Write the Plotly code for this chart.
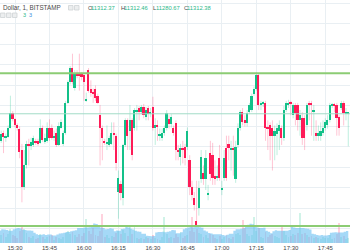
import pandas as pd
import plotly.graph_objects as go

times = pd.date_range("2018-02-20 15:23", periods=153, freq="1min")

open_ = [11283, 11286, 11294, 11289, 11290, 11299, 11313, 11307, 11301, 11298,
         11277, 11241, 11262, 11283, 11281, 11282, 11286, 11286, 11284, 11299,
         11285, 11286, 11299, 11299, 11289, 11294, 11282, 11299, 11283, 11294,
         11323, 11343, 11357, 11338, 11352, 11352, 11351, 11350, 11325, 11355,
         11337, 11333, 11337, 11330, 11311, 11299, 11285, 11283, 11282, 11283,
         11294, 11291, 11236, 11244, 11230, 11282, 11306, 11296, 11306, 11299,
         11314, 11318, 11314, 11319, 11309, 11318, 11312, 11319, 11299, 11301,
         11291, 11289, 11294, 11299, 11307, 11302, 11299, 11303, 11277, 11270,
         11279, 11280, 11280, 11267, 11241, 11230, 11208, 11220, 11249, 11255,
         11249, 11234, 11274, 11272, 11252, 11250, 11269, 11238, 11250, 11279,
         11283, 11277, 11279, 11249, 11282, 11299, 11314, 11306, 11303, 11314,
         11316, 11332, 11337, 11350, 11321, 11322, 11323, 11299, 11301, 11299,
         11291, 11293, 11296, 11299, 11289, 11316, 11321, 11323, 11311, 11321,
         11321, 11306, 11308, 11308, 11301, 11323, 11323, 11314, 11294, 11291,
         11291, 11294, 11299, 11301, 11306, 11320, 11321, 11321, 11309, 11318,
         11323, 11313, 11312.37]

high = [11296, 11296, 11296, 11293, 11301, 11330, 11315, 11308, 11303, 11300,
        11283, 11277, 11286, 11288, 11289, 11291, 11288, 11288, 11307, 11301,
        11293, 11304, 11307, 11302, 11296, 11298, 11304, 11307, 11296, 11325,
        11345, 11359, 11371, 11355, 11355, 11371, 11353, 11352, 11333, 11357,
        11345, 11337, 11340, 11332, 11321, 11301, 11288, 11301, 11291, 11304,
        11304, 11293, 11257, 11247, 11283, 11308, 11308, 11321, 11308, 11318,
        11321, 11320, 11321, 11322, 11319, 11320, 11318, 11329, 11308, 11306,
        11298, 11298, 11301, 11316, 11311, 11312, 11301, 11306, 11282, 11283,
        11286, 11283, 11299, 11272, 11247, 11236, 11247, 11247, 11277, 11262,
        11277, 11243, 11286, 11284, 11267, 11262, 11282, 11247, 11277, 11291,
        11291, 11286, 11291, 11286, 11303, 11316, 11318, 11311, 11316, 11323,
        11332, 11339, 11353, 11352, 11325, 11325, 11325, 11306, 11304, 11306,
        11301, 11303, 11306, 11301, 11320, 11325, 11326, 11325, 11323, 11323,
        11323, 11316, 11314, 11311, 11323, 11325, 11325, 11321, 11306, 11301,
        11304, 11306, 11308, 11311, 11323, 11323, 11323, 11323, 11311, 11325,
        11325, 11318, 11312.46]

low = [11282, 11284, 11274, 11285, 11289, 11298, 11305, 11299, 11296, 11269,
       11226, 11238, 11259, 11262, 11277, 11280, 11282, 11281, 11283, 11285,
       11283, 11284, 11286, 11287, 11286, 11280, 11281, 11298, 11281, 11292,
       11322, 11341, 11341, 11335, 11347, 11335, 11345, 11325, 11324, 11333,
       11329, 11323, 11325, 11322, 11262, 11267, 11282, 11277, 11280, 11282,
       11277, 11257, 11210, 11228, 11223, 11280, 11277, 11277, 11267, 11296,
       11296, 11306, 11312, 11308, 11306, 11306, 11309, 11296, 11282, 11286,
       11286, 11286, 11291, 11296, 11298, 11299, 11291, 11267, 11267, 11262,
       11264, 11262, 11277, 11233, 11228, 11218, 11203, 11213, 11245, 11243,
       11238, 11228, 11247, 11243, 11243, 11247, 11247, 11233, 11247, 11247,
       11267, 11257, 11252, 11245, 11279, 11296, 11301, 11300, 11300, 11312,
       11314, 11330, 11335, 11316, 11316, 11319, 11286, 11277, 11267, 11257,
       11267, 11272, 11277, 11282, 11286, 11314, 11318, 11311, 11308, 11301,
       11296, 11291, 11282, 11277, 11296, 11306, 11291, 11286, 11286, 11286,
       11286, 11291, 11296, 11298, 11304, 11318, 11314, 11291, 11291, 11316,
       11301, 11306, 11280.67]

close = [11286, 11293, 11290, 11291, 11299, 11313, 11307, 11301, 11299, 11275,
         11241, 11262, 11283, 11281, 11285, 11289, 11284, 11283, 11299, 11287,
         11289, 11299, 11289, 11289, 11291, 11282, 11300, 11304, 11294, 11323,
         11343, 11357, 11343, 11352, 11349, 11349, 11348, 11343, 11326, 11335,
         11333, 11332, 11328, 11323, 11299, 11289, 11284, 11285, 11289, 11294,
         11292, 11264, 11250, 11235, 11282, 11306, 11291, 11306, 11272, 11316,
         11316, 11314, 11319, 11311, 11316, 11312, 11314, 11299, 11301, 11300,
         11293, 11294, 11299, 11313, 11302, 11309, 11294, 11277, 11275, 11279,
         11277, 11269, 11296, 11241, 11233, 11223, 11204, 11240, 11270, 11249,
         11269, 11235, 11254, 11250, 11249, 11252, 11250, 11240, 11269, 11250,
         11279, 11279, 11277, 11280, 11299, 11314, 11304, 11303, 11313, 11321,
         11330, 11337, 11350, 11321, 11323, 11323, 11299, 11298, 11291, 11291,
         11296, 11299, 11301, 11289, 11316, 11323, 11323, 11322, 11321, 11313,
         11306, 11311, 11289, 11289, 11321, 11321, 11321, 11316, 11291, 11294,
         11296, 11299, 11304, 11306, 11321, 11321, 11320, 11308, 11299, 11323,
         11313, 11314, 11312.38]

volume = [12, 8, 10, 6, 9, 14, 8, 7, 5, 12,
          18, 14, 10, 6, 5, 7, 4, 5, 9, 6,
          4, 6, 7, 8, 3, 6, 5, 4, 6, 10,
          12, 9, 11, 8, 6, 9, 7, 10, 24, 12,
          9, 15, 8, 7, 12, 29, 6, 8, 5, 7,
          6, 10, 12, 9, 13, 10, 7, 16, 9, 18,
          5, 4, 5, 4, 6, 5, 4, 8, 5, 4,
          3, 6, 26, 9, 5, 6, 5, 9, 6, 11,
          5, 7, 8, 12, 26, 11, 14, 10, 9, 6,
          8, 5, 9, 8, 5, 4, 7, 4, 6, 8,
          5, 4, 6, 9, 10, 8, 23, 15, 9, 7,
          8, 26, 12, 15, 6, 5, 11, 6, 8, 9,
          7, 6, 5, 18, 12, 8, 6, 7, 9, 8,
          10, 30, 9, 10, 8, 6, 7, 5, 6, 5,
          4, 6, 5, 5, 8, 4, 5, 9, 20, 6,
          7, 4, 5]

levels = [11352.0, 11203.0]
header_values = ["11312.37", "11312.46", "11280.67", "11312.38"]
header_keys = ["O", "H", "L", "C"]

UP = "#14c18a"
DOWN = "#fe1c58"
UP_W = "rgba(20,193,138,0.28)"
DOWN_W = "rgba(254,28,88,0.25)"
GRID = "#e9eff3"

up = [c >= o for o, c in zip(open_, close)]

fig = go.Figure()

# volume moving-average area
vma = pd.Series(volume, dtype=float).rolling(9, min_periods=1, center=True).mean() * 1.4
fig.add_trace(go.Scatter(x=times, y=vma, yaxis="y2", mode="lines", line=dict(width=0, shape="hv"),
                         fill="tozeroy", fillcolor="rgba(105,192,242,0.6)", hoverinfo="skip"))
fig.add_trace(go.Bar(x=times, y=volume, yaxis="y2", width=50000,
                     marker=dict(color=[("rgba(20,193,138,0.2)" if u else "rgba(254,28,88,0.2)") for u in up],
                                 line=dict(width=0))))

# wicks
for flag, col in ((True, UP_W), (False, DOWN_W)):
    xs, ys = [], []
    for t, h, l, u in zip(times, high, low, up):
        if u == flag:
            xs += [t, t, None]
            ys += [l, h, None]
    fig.add_trace(go.Scatter(x=xs, y=ys, mode="lines", line=dict(color=col, width=1), hoverinfo="skip"))

# bodies
base = [min(o, c) for o, c in zip(open_, close)]
height = [max(abs(c - o), 1.0) for o, c in zip(open_, close)]
fig.add_trace(go.Bar(x=times, y=height, base=base, width=44000,
                     marker=dict(color=[UP if u else DOWN for u in up], line=dict(width=0))))

# horizontal levels
for lv in levels:
    fig.add_shape(type="line", xref="paper", x0=0, x1=1, yref="y", y0=lv, y1=lv,
                  line=dict(color="#8ccc74", width=2))
fig.add_shape(type="line", xref="paper", x0=0, x1=1, yref="y", y0=close[-1], y1=close[-1],
              line=dict(color="#a3dcc7", width=1))

H = 243.0
def px(x):
    return x / 350.0
def py(y):
    return 1 - y / H

FONT = "Liberation Sans"
FS = 5.8
fig.add_annotation(x=px(1), y=py(8), xref="paper", yref="paper", text="Dollar, 1, BITSTAMP",
                   showarrow=False, xanchor="left", yanchor="middle",
                   font=dict(family=FONT, size=6.3, color="#4a4a4a"))
key_x = [86, 119, 151, 182]
for k, v, kx in zip(header_keys, header_values, key_x):
    fig.add_annotation(x=px(kx), y=py(8), xref="paper", yref="paper", text=k,
                       showarrow=False, xanchor="left", yanchor="middle",
                       font=dict(family=FONT, size=FS, color="#4a4a4a"))
    fig.add_annotation(x=px(kx + 3.3), y=py(8), xref="paper", yref="paper", text=v,
                       showarrow=False, xanchor="left", yanchor="middle",
                       font=dict(family=FONT, size=FS, color="#2bb88a"))
fig.add_annotation(x=px(21), y=py(15.5), xref="paper", yref="paper", text="3",
                   showarrow=False, xanchor="left", yanchor="middle",
                   font=dict(family=FONT, size=5.5, color="#2bb88a"))
fig.add_annotation(x=px(26.5), y=py(15.5), xref="paper", yref="paper", text="3",
                   showarrow=False, xanchor="left", yanchor="middle",
                   font=dict(family=FONT, size=5.5, color="#3a8fe0"))
for bx in (68.5, 74.5):
    fig.add_shape(type="rect", xref="paper", yref="paper", x0=px(bx), x1=px(bx + 4.5),
                  y0=py(10), y1=py(5.5), line=dict(color="#cfd3d6", width=0.8), fillcolor="#eceeef")
for bx in (0.5, 6.5, 12.5):
    fig.add_shape(type="rect", xref="paper", yref="paper", x0=px(bx), x1=px(bx + 4.5),
                  y0=py(17.5), y1=py(13), line=dict(color="#cfd3d6", width=0.8), fillcolor="#eceeef")

fig.update_layout(
    width=350, height=250,
    margin=dict(l=0, r=0, t=0, b=7),
    paper_bgcolor="white", plot_bgcolor="white",
    showlegend=False, barmode="overlay", bargap=0,
    xaxis=dict(type="date", range=["2018-02-20 15:23:28", "2018-02-20 17:55:45"],
               tick0="2018-02-20 15:00", dtick=900000, tickformat="%H:%M",
               showgrid=True, gridcolor=GRID, gridwidth=1, zeroline=False,
               showline=False, ticks="", tickfont=dict(family=FONT, size=6, color="#444"),
               fixedrange=True),
    yaxis=dict(range=[11186.3, 11423.4], tick0=11200, dtick=20, showgrid=True,
               gridcolor=GRID, gridwidth=1, zeroline=False, showticklabels=False,
               showline=False, ticks=""),
    yaxis2=dict(range=[0, 243], overlaying="y", showgrid=False, zeroline=False,
                showticklabels=False, showline=False),
)

fig.write_html("out.html")
